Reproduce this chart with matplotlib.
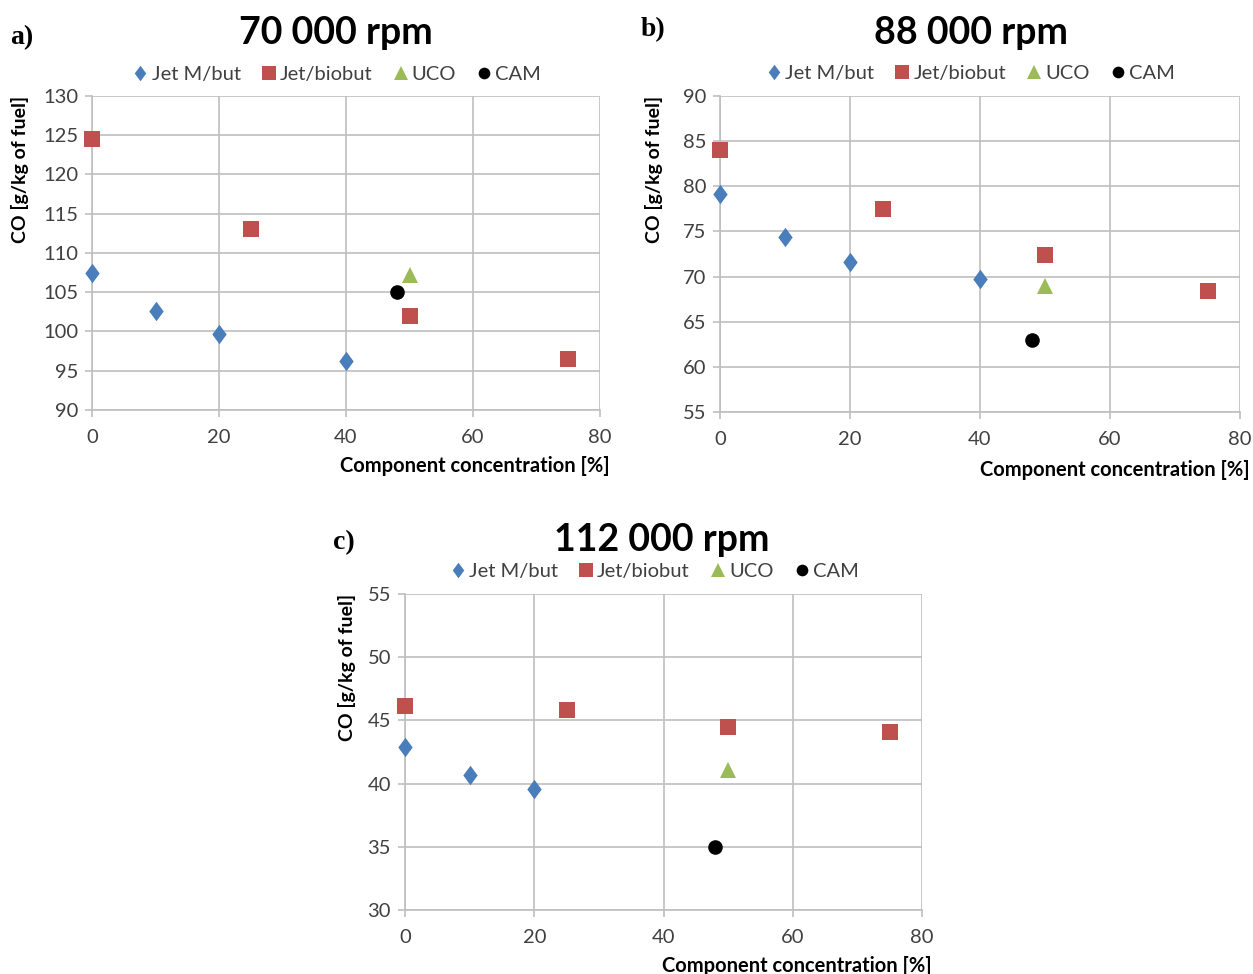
import matplotlib
matplotlib.use("Agg")
import matplotlib.pyplot as plt
from matplotlib.path import Path

plt.rcParams['font.family'] = ['Lato', 'DejaVu Sans']

# ---- data ----
speeds = ["70 000 rpm", "88 000 rpm", "112 000 rpm"]
panel_tags = ["a)", "b)", "c)"]

jetm_x_a = [0, 10, 20, 40]
jetm_y_a = [107.5, 102.6, 99.7, 96.2]
bio_x_a = [0, 25, 50, 75]
bio_y_a = [124.5, 113.0, 102.0, 96.5]
uco_x_a = [50]
uco_y_a = [107.2]
cam_x_a = [48]
cam_y_a = [105.0]

jetm_x_b = [0, 10, 20, 40]
jetm_y_b = [79.2, 74.4, 71.6, 69.7]
bio_x_b = [0, 25, 50, 75]
bio_y_b = [84.0, 77.5, 72.4, 68.4]
uco_x_b = [50]
uco_y_b = [69.0]
cam_x_b = [48]
cam_y_b = [63.0]

jetm_x_c = [0, 10, 20]
jetm_y_c = [42.9, 40.7, 39.6]
bio_x_c = [0, 25, 50, 75]
bio_y_c = [46.1, 45.8, 44.5, 44.1]
uco_x_c = [50]
uco_y_c = [41.1]
cam_x_c = [48]
cam_y_c = [35.0]

y_ranges = [(90, 130, 5), (55, 90, 5), (30, 55, 5)]
x_ticks = [0, 20, 40, 60, 80]

series_names = ["Jet M/but", "Jet/biobut", "UCO", "CAM"]

panels = [
    (jetm_x_a, jetm_y_a, bio_x_a, bio_y_a, uco_x_a, uco_y_a, cam_x_a, cam_y_a),
    (jetm_x_b, jetm_y_b, bio_x_b, bio_y_b, uco_x_b, uco_y_b, cam_x_b, cam_y_b),
    (jetm_x_c, jetm_y_c, bio_x_c, bio_y_c, uco_x_c, uco_y_c, cam_x_c, cam_y_c),
]

# ---- layout ----
W, H = 1253, 974
fig = plt.figure(figsize=(W / 100, H / 100), dpi=100)

def px_axes(l, t, r, b):
    return [l / W, 1 - b / H, (r - l) / W, (b - t) / H]

rects = [px_axes(92, 96, 600, 410), px_axes(720, 96, 1240, 412), px_axes(405, 594, 922, 910)]
title_pos = [(336, 33), (971, 33), (662, 540)]
tag_pos = [(10, 38), (641, 30), (333, 543)]
ylab_x = [-0.142, -0.127, -0.112]
xlab_y = [-0.178, -0.185, -0.178]

grid_c = "#bfbfbf"
text_c = "#404040"
tall_diamond = Path([(0, 1), (0.74, 0), (0, -1), (-0.74, 0), (0, 1)],
                    [Path.MOVETO, Path.LINETO, Path.LINETO, Path.LINETO, Path.CLOSEPOLY])
styles = [
    dict(marker=tall_diamond, color="#4a7ebb", ms=14),
    dict(marker="s", color="#c0504d", ms=12),
    dict(marker="^", color="#9bbb59", ms=12),
    dict(marker="o", color="#000000", ms=10.5),
]

for i, (rect, data) in enumerate(zip(rects, panels)):
    ax = fig.add_axes(rect)
    ymin, ymax, ystep = y_ranges[i]
    handles = []
    for k in range(4):
        xs, ys = data[2 * k], data[2 * k + 1]
        st = styles[k]
        h, = ax.plot(xs, ys, linestyle="none", marker=st["marker"], color=st["color"],
                     markersize=st["ms"], markeredgewidth=0, label=series_names[k],
                     clip_on=False, zorder=3)
        handles.append(h)
    ax.set_xlim(0, 80)
    ax.set_ylim(ymin, ymax)
    ax.set_xticks(x_ticks)
    ax.set_yticks(list(range(ymin, ymax + 1, ystep)))
    ax.grid(True, color=grid_c, linewidth=1.2)
    ax.set_axisbelow(True)
    for s in ["top", "right"]:
        ax.spines[s].set_visible(False)
    for s in ["left", "bottom"]:
        ax.spines[s].set_color(grid_c)
        ax.spines[s].set_linewidth(1.2)
    ax.tick_params(axis="both", colors=grid_c, labelcolor=text_c, labelsize=14.5,
                   length=5, width=1.2)
    ax.tick_params(axis="y", pad=5)
    ax.tick_params(axis="x", pad=9)
    ax.text(ylab_x[i], 1.0, "CO [g/kg of fuel]", transform=ax.transAxes, rotation=90,
            ha="center", va="top", fontsize=14, fontweight="bold", color="#000000")
    ax.text(1.018, xlab_y[i], "Component concentration [%]", transform=ax.transAxes,
            ha="right", va="center", fontsize=14.5, fontweight="bold", color="#000000")
    leg = ax.legend(handles=handles, loc="center", bbox_to_anchor=(0.48, 1.07),
                    ncol=4, frameon=False, fontsize=14.5, handletextpad=0.05,
                    columnspacing=0.9, handlelength=1.0, markerscale=0.8,
                    borderaxespad=0)
    for t in leg.get_texts():
        t.set_color(text_c)
    fig.text(title_pos[i][0] / W, 1 - title_pos[i][1] / H, speeds[i], ha="center",
             va="center", fontsize=27, fontweight="bold", color="#000000")
    fig.text(tag_pos[i][0] / W, 1 - tag_pos[i][1] / H, panel_tags[i], ha="left",
             va="center", fontsize=20, fontweight="bold", color="#000000",
             family="Liberation Serif")

fig.savefig("out.png", dpi=100)
